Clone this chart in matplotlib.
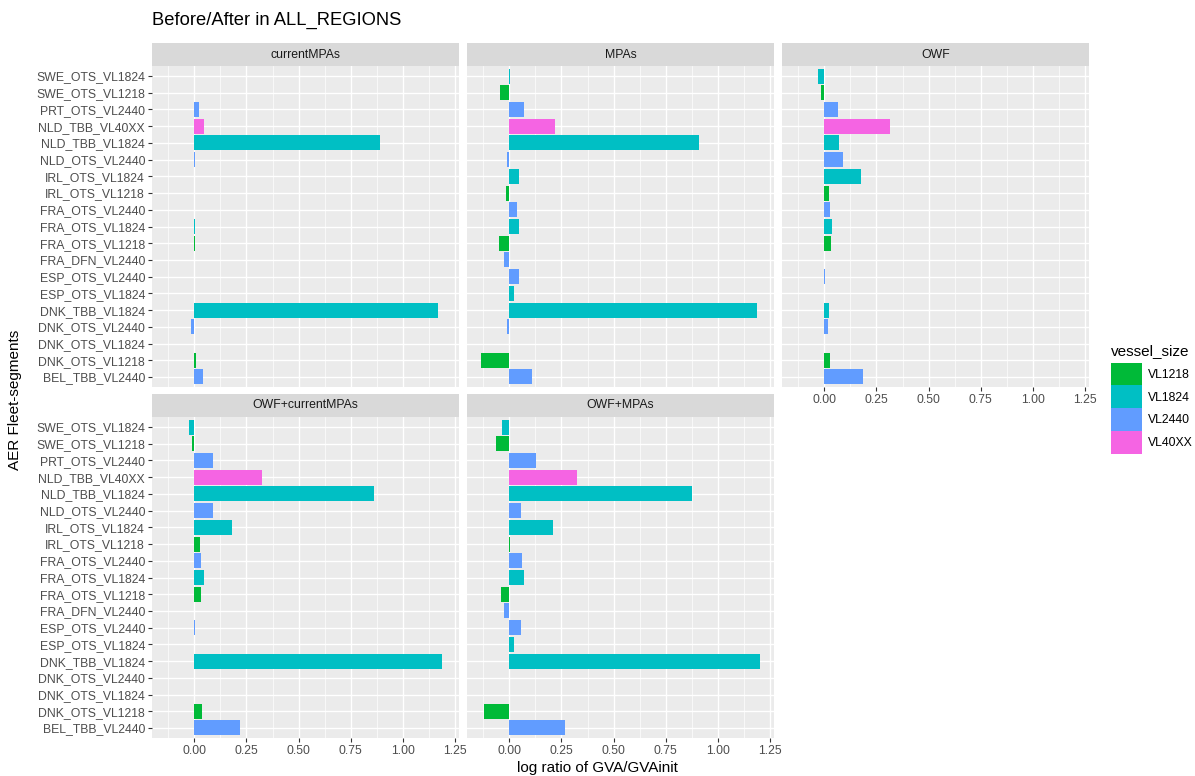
import matplotlib
matplotlib.use("Agg")
import matplotlib.pyplot as plt
from matplotlib.patches import Patch
import numpy as np

plt.rcParams['font.family'] = ['Liberation Sans', 'DejaVu Sans']

# fleet segments, top to bottom as shown
segments = ["SWE_OTS_VL1824", "SWE_OTS_VL1218", "PRT_OTS_VL2440", "NLD_TBB_VL40XX",
            "NLD_TBB_VL1824", "NLD_OTS_VL2440", "IRL_OTS_VL1824", "IRL_OTS_VL1218",
            "FRA_OTS_VL2440", "FRA_OTS_VL1824", "FRA_OTS_VL1218", "FRA_DFN_VL2440",
            "ESP_OTS_VL2440", "ESP_OTS_VL1824", "DNK_TBB_VL1824", "DNK_OTS_VL2440",
            "DNK_OTS_VL1824", "DNK_OTS_VL1218", "BEL_TBB_VL2440"]

current_mpas = [0, 0, 0.02, 0.045, 0.89, 0.003, 0, 0, 0, 0.003, 0.003, 0, 0, 0,
                1.17, -0.018, 0, 0.005, 0.04]
mpas = [0.004, -0.045, 0.07, 0.22, 0.91, -0.012, 0.047, -0.015, 0.038, 0.048, -0.05,
        -0.027, 0.046, 0.022, 1.19, -0.01, -0.003, -0.137, 0.108]
owf = [-0.03, -0.015, 0.067, 0.315, 0.07, 0.088, 0.176, 0.024, 0.027, 0.037, 0.029,
       0, 0.003, 0, 0.02, 0.015, 0, 0.027, 0.187]
owf_current_mpas = [-0.027, -0.01, 0.087, 0.325, 0.863, 0.09, 0.18, 0.026, 0.032, 0.045,
                    0.03, 0, 0.004, 0, 1.19, 0, 0, 0.038, 0.217]
owf_mpas = [-0.036, -0.063, 0.126, 0.325, 0.879, 0.056, 0.207, 0.003, 0.06, 0.07,
            -0.041, -0.027, 0.056, 0.022, 1.204, 0, -0.004, -0.121, 0.267]

scenarios = ["currentMPAs", "MPAs", "OWF", "OWF+currentMPAs", "OWF+MPAs"]
scenario_values = [current_mpas, mpas, owf, owf_current_mpas, owf_mpas]

sizes = ["VL1218", "VL1824", "VL2440", "VL40XX"]
size_colors = {"VL1218": "#00BA38", "VL1824": "#00BFC4",
               "VL2440": "#619CFF", "VL40XX": "#F564E3"}

W, H = 1195, 776
fig = plt.figure(figsize=(W / 100, H / 100), dpi=100)

# ggplot-like limits
allv = np.concatenate([np.array(v, dtype=float) for v in scenario_values])
lo, hi = allv.min(), allv.max()
pad = 0.05 * (hi - lo)
xlim = (lo - pad, hi + pad)

col_left = [152, 467, 782]
pw = 307
rows = [(66, 387), (417, 738)]
strip_h = 23

ypos = np.arange(len(segments))[::-1]
bar_colors = [size_colors[s.split("_")[-1]] for s in segments]

for i, (name, vals) in enumerate(zip(scenarios, scenario_values)):
    r, c = divmod(i, 3)
    top, bot = rows[r]
    left = col_left[c]
    ax = fig.add_axes([left / W, 1 - bot / H, pw / W, (bot - top) / H])
    ax.set_facecolor("#EBEBEB")
    ax.barh(ypos, vals, height=0.9, color=bar_colors, zorder=3)
    ax.set_xlim(*xlim)
    ax.set_ylim(-0.6, len(segments) - 0.4)
    ax.set_xticks([0, 0.25, 0.5, 0.75, 1.0, 1.25])
    ax.set_xticks(np.arange(-0.125, 1.3, 0.25), minor=True)
    ax.grid(True, which="major", color="white", lw=1.0, zorder=1)
    ax.grid(True, which="minor", axis="x", color="white", lw=0.5, zorder=1)
    ax.set_axisbelow(True)
    for sp in ax.spines.values():
        sp.set_visible(False)
    ax.tick_params(which="minor", length=0)
    ax.tick_params(which="major", length=3, color="#333333", labelcolor="#4D4D4D",
                   labelsize=8.8, width=0.8, pad=2)
    ax.set_yticks(ypos)
    if c == 0:
        ax.set_yticklabels(segments)
    else:
        ax.set_yticklabels([])
        ax.tick_params(axis="y", length=0)
    if r == 1 or c == 2:
        ax.set_xticklabels(["0.00", "0.25", "0.50", "0.75", "1.00", "1.25"])
    else:
        ax.set_xticklabels([])
        ax.tick_params(axis="x", length=0)

    sax = fig.add_axes([left / W, 1 - top / H, pw / W, strip_h / H])
    sax.set_facecolor("#D9D9D9")
    sax.set_xticks([])
    sax.set_yticks([])
    for sp in sax.spines.values():
        sp.set_visible(False)
    sax.text(0.5, 0.5, name, ha="center", va="center", fontsize=8.8,
             color="#1A1A1A", transform=sax.transAxes)

fig.text(152 / W, 1 - 20 / H, "Before/After in ALL_REGIONS", fontsize=13.2,
         ha="left", va="center", color="black")
fig.text(597 / W, 1 - 768 / H, "log ratio of GVA/GVAinit", fontsize=11,
         ha="center", va="center")
fig.text(15 / W, 1 - 400 / H, "AER Fleet-segments", fontsize=11, rotation=90,
         ha="center", va="center")

handles = [Patch(facecolor=size_colors[s], edgecolor="none") for s in sizes]
leg = fig.legend(handles, sizes, title="vessel_size", loc="upper left",
                 bbox_to_anchor=(1109 / W, 1 - 342 / H), frameon=False,
                 fontsize=8.8, title_fontsize=11, handlelength=2.5, handleheight=2.5,
                 labelspacing=0.0, handletextpad=0.5, borderaxespad=0,
                 borderpad=0.2)
leg._legend_box.align = "left"
leg._legend_box.sep = 3

fig.savefig("out.png", dpi=100)
